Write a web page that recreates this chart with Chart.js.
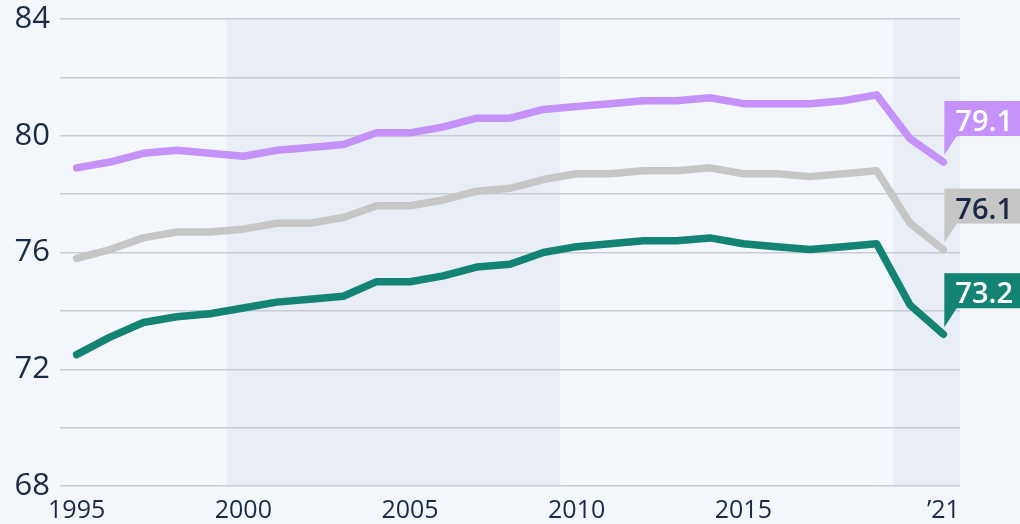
<!DOCTYPE html>
<html lang="en">

<head>
  <meta charset="UTF-8">
  <title>Life expectancy</title>
  <script src="https://cdn.jsdelivr.net/npm/chart.js"></script>
  <style>
    html, body { margin: 0; padding: 0; background: #f3f6fa; }
    #box { width: 1020px; height: 524px; }
  </style>
</head>

<body>
  <div id="box"><canvas id="grafico"></canvas></div>

<script>
  // anos e valores
  var anos = [1995, 1996, 1997, 1998, 1999, 2000, 2001, 2002, 2003, 2004, 2005, 2006, 2007,
    2008, 2009, 2010, 2011, 2012, 2013, 2014, 2015, 2016, 2017, 2018, 2019, 2020, 2021];
  var mulheres = [78.9, 79.1, 79.4, 79.5, 79.4, 79.3, 79.5, 79.6, 79.7, 80.1, 80.1, 80.3, 80.6,
    80.6, 80.9, 81.0, 81.1, 81.2, 81.2, 81.3, 81.1, 81.1, 81.1, 81.2, 81.4, 79.9, 79.1];
  var total = [75.8, 76.1, 76.5, 76.7, 76.7, 76.8, 77.0, 77.0, 77.2, 77.6, 77.6, 77.8, 78.1,
    78.2, 78.5, 78.7, 78.7, 78.8, 78.8, 78.9, 78.7, 78.7, 78.6, 78.7, 78.8, 77.0, 76.1];
  var homens = [72.5, 73.1, 73.6, 73.8, 73.9, 74.1, 74.3, 74.4, 74.5, 75.0, 75.0, 75.2, 75.5,
    75.6, 76.0, 76.2, 76.3, 76.4, 76.4, 76.5, 76.3, 76.2, 76.1, 76.2, 76.3, 74.2, 73.2];
  var ticksX = [1995, 2000, 2005, 2010, 2015, 2021];
  var ticksY = [68, 72, 76, 80, 84];
  var faixas = [[1999.5, 2009.5], [2019.5, 2021.5]];

  var corMulheres = '#c492f9';
  var corTotal = '#c6c6c6';
  var corHomens = '#138474';
  var corTexto = '#1b2a44';

  function serie(valores) {
    return anos.map(function (a, i) { return { x: a, y: valores[i] }; });
  }

  // fundo e faixas sombreadas
  var pluginFaixas = {
    id: 'faixas',
    beforeDraw: function (chart) {
      var ctx = chart.ctx;
      var area = chart.chartArea;
      var x = chart.scales.x;
      ctx.save();
      ctx.fillStyle = '#f3f6fa';
      ctx.fillRect(0, 0, chart.width, chart.height);
      ctx.fillStyle = '#e9eef6';
      for (var i = 0; i < faixas.length; i++) {
        var x0 = x.getPixelForValue(faixas[i][0]);
        var x1 = Math.min(x.getPixelForValue(faixas[i][1]), area.right);
        ctx.fillRect(x0, area.top, x1 - x0, area.bottom - area.top);
      }
      ctx.restore();
    }
  };

  // caixinhas com o ultimo valor
  var pluginRotulos = {
    id: 'rotulos',
    afterDatasetsDraw: function (chart) {
      var ctx = chart.ctx;
      ctx.save();
      chart.data.datasets.forEach(function (ds, i) {
        var meta = chart.getDatasetMeta(i);
        var p = meta.data[meta.data.length - 1];
        var x0 = p.x + 1;
        var baixo = p.y - 26;
        var topo = baixo - 35;
        ctx.fillStyle = ds.borderColor;
        ctx.fillRect(x0, topo, chart.width - x0, baixo - topo);
        ctx.beginPath();
        ctx.moveTo(x0, baixo - 1);
        ctx.lineTo(x0 + 13, baixo - 1);
        ctx.lineTo(x0, p.y - 7);
        ctx.closePath();
        ctx.fill();
        ctx.fillStyle = ds.corRotulo;
        ctx.font = '600 29px "Open Sans"';
        ctx.textAlign = 'left';
        ctx.textBaseline = 'alphabetic';
        ctx.fillText(ds.data[ds.data.length - 1].y.toFixed(1), x0 + 11, baixo - 5);
      });
      ctx.restore();
    }
  };

  var ctx = document.getElementById('grafico').getContext('2d');
  var myChart = new Chart(ctx, {
    type: 'line',
    data: {
      datasets: [{
        label: 'Mulheres',
        data: serie(mulheres),
        borderColor: corMulheres,
        corRotulo: '#ffffff'
      }, {
        label: 'Total',
        data: serie(total),
        borderColor: corTotal,
        corRotulo: corTexto
      }, {
        label: 'Homens',
        data: serie(homens),
        borderColor: corHomens,
        corRotulo: '#ffffff'
      }]
    },
    options: {
      responsive: true,
      maintainAspectRatio: false,
      animation: false,
      layout: { padding: { left: 12, right: 60, top: 19, bottom: -4 } },
      elements: {
        line: { borderWidth: 7.5, borderCapStyle: 'round', borderJoinStyle: 'round', tension: 0 },
        point: { radius: 0 }
      },
      plugins: {
        legend: { display: false },
        tooltip: { enabled: false }
      },
      scales: {
        x: {
          type: 'linear',
          min: 1994.5,
          max: 2021.5,
          grid: { display: false },
          border: { display: false },
          afterBuildTicks: function (scale) {
            scale.ticks = ticksX.map(function (v) { return { value: v }; });
          },
          ticks: {
            autoSkip: false,
            maxRotation: 0,
            padding: 2,
            color: corTexto,
            font: { family: '"Open Sans"', size: 25 },
            callback: function (v) { return v == 2021 ? '\u201921' : String(v); }
          }
        },
        y: {
          min: 68,
          max: 84,
          border: { display: false },
          grid: { color: '#c8cdd4', lineWidth: 1.5, drawTicks: false },
          afterFit: function (scale) {
            scale.width = 48;
            scale.paddingTop = 0;
            scale.paddingBottom = 0;
          },
          ticks: {
            stepSize: 2,
            padding: 10,
            color: corTexto,
            font: { family: '"Open Sans"', size: 31 },
            callback: function (v) { return ticksY.indexOf(v) >= 0 ? String(v) : ''; }
          }
        }
      }
    },
    plugins: [pluginFaixas, pluginRotulos]
  });
</script>
</body>

</html>
